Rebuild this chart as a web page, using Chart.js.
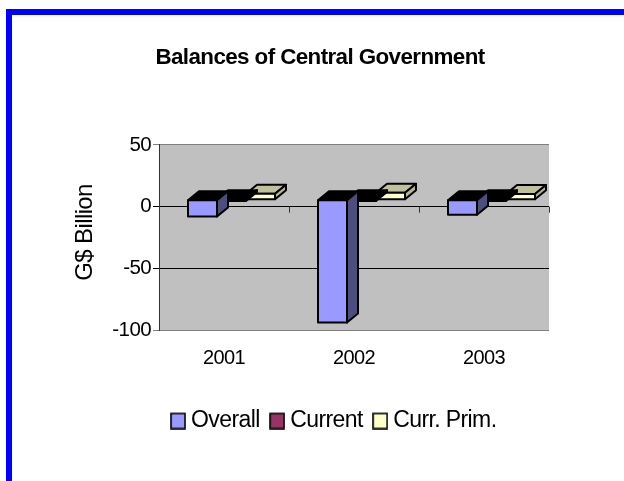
<!DOCTYPE html>
<html>
<head>
<meta charset="utf-8">
<title>Balances of Central Government</title>
<script src="https://cdn.jsdelivr.net/npm/chart.js@4"></script>
<style>
  html, body { margin: 0; padding: 0; background: #fff; overflow: hidden; }
  #frame {
    position: absolute; left: 6px; top: 9px; width: 618px; height: 472px;
    box-sizing: border-box; border-top: 6px solid #0000ff; border-left: 6px solid #0000ff;
  }
  canvas { position: absolute; left: 0; top: 0; }
</style>
</head>
<body>
<div id="frame"></div>
<canvas id="c" width="624" height="481"></canvas>
<script>
const years = ['2001', '2002', '2003'];
const overall = [-8, -94, -6.5];
const current = [4.6, 4.6, 4.6];
const currPrim = [10.5, 11.3, 10.3];
const yTicks = [50, 0, -50, -100];

const FONT = '"Liberation Sans", Arial, sans-serif';

/* ---- 3D look ------------------------------------------------ */
const DEPTH_X = 11, DEPTH_Y = 9;   // extrusion of the bars
const LIFT_X = 7.5, LIFT_Y = 7;    // front plane sits off the axis plane

function poly(ctx, pts, fill) {
  ctx.beginPath();
  pts.forEach((p, i) => i ? ctx.lineTo(p[0], p[1]) : ctx.moveTo(p[0], p[1]));
  ctx.closePath();
  ctx.fillStyle = fill;
  ctx.fill();
  ctx.stroke();
}

const bars3d = {
  id: 'bars3d',
  beforeDatasetDraw(chart, args) {
    const ds = chart.data.datasets[args.index];
    const ctx = chart.ctx;
    ctx.save();
    ctx.strokeStyle = '#000';
    ctx.lineWidth = 2;
    ctx.lineJoin = 'round';
    args.meta.data.forEach(el => {
      const l = el.x - el.width / 2 + LIFT_X, r = l + el.width;
      const zero = el.base - LIFT_Y;
      const t = Math.min(zero, el.y), b = Math.max(zero, el.y);
      poly(ctx, [[l, t], [r, t], [r + DEPTH_X, t - DEPTH_Y], [l + DEPTH_X, t - DEPTH_Y]], ds.topColor);
      poly(ctx, [[r, t], [r + DEPTH_X, t - DEPTH_Y], [r + DEPTH_X, b - DEPTH_Y], [r, b]], ds.sideColor);
      poly(ctx, [[l, t], [r, t], [r, b], [l, b]], ds.backgroundColor);
    });
    ctx.restore();
    return false;
  }
};

const plotBack = {
  id: 'plotBack',
  beforeLayout(chart) { chart.ctx.letterSpacing = '-0.6px'; },
  beforeDraw(chart) {
    chart.ctx.letterSpacing = '-0.6px';
    const a = chart.chartArea;
    chart.ctx.fillStyle = '#c0c0c0';
    chart.ctx.fillRect(a.left, a.top, a.right - a.left, a.bottom - a.top);
  },
  afterLayout(chart) {
    chart.legend.left += 54;
    chart.legend.right += 54;
    chart.titleBlock.left += 37.5;
    chart.titleBlock.right += 37.5;
    // axis title sits a little above the middle of the plot
    const y = chart.scales.y;
    if (!y.titleMoved) {
      const drawTitle = y.drawTitle;
      y.drawTitle = function () { this.bottom -= 10; drawTitle.call(this); this.bottom += 10; };
      y.titleMoved = true;
    }
  },
  beforeDatasetsDraw(chart) {
    // tick marks of the category axis, they hang on the zero line
    const ctx = chart.ctx, x = chart.scales.x, y0 = chart.scales.y.getPixelForValue(0);
    const step = x.getPixelForValue(1) - x.getPixelForValue(0);
    ctx.save();
    ctx.strokeStyle = '#333';
    ctx.lineWidth = 1;
    years.forEach((yr, i) => {
      const px = Math.round(x.getPixelForValue(i) + step / 2) + 0.5;
      ctx.beginPath();
      ctx.moveTo(px, y0);
      ctx.lineTo(px, y0 + 6);
      ctx.stroke();
    });
    ctx.restore();
  }
};

/* ---- LEGEND SWATCHES ---------------------------------------- */
function swatch(color) {
  const cv = document.createElement('canvas');
  cv.width = 16; cv.height = 18;
  const g = cv.getContext('2d');
  g.fillStyle = color;
  g.strokeStyle = '#000';
  g.lineWidth = 1.6;
  g.fillRect(1, 2, 14, 15);
  g.strokeRect(1, 2, 14, 15);
  return cv;
}

/* ---- CHART -------------------------------------------------- */
new Chart(document.getElementById('c'), {
  type: 'bar',
  data: {
    labels: years,
    datasets: [
      { label: 'Overall', data: overall, backgroundColor: '#9999ff', topColor: '#000', sideColor: '#4d4d80' },
      { label: 'Current', data: current, backgroundColor: '#993366', topColor: '#000', sideColor: '#000' },
      { label: 'Curr. Prim.', data: currPrim, backgroundColor: '#ffffcc', topColor: '#c0c09a', sideColor: '#b5b58f' }
    ]
  },
  plugins: [plotBack, bars3d],
  options: {
    responsive: false,
    animation: false,
    categoryPercentage: 87 / 130,
    barPercentage: 1,
    layout: { padding: { left: 16, right: 75, top: 0, bottom: 39 } },
    plugins: {
      title: {
        display: true,
        text: 'Balances of Central Government',
        color: '#000',
        font: { family: FONT, size: 22.4, weight: 'bold', lineHeight: 1.2 },
        padding: { top: 44.5, bottom: 73.6 }
      },
      legend: {
        position: 'bottom',
        labels: {
          color: '#000',
          font: { family: FONT, size: 23 },
          usePointStyle: true,
          pointStyleWidth: 3,
          padding: 16,
          generateLabels(chart) {
            return chart.data.datasets.map((ds, i) => ({
              text: ds.label,
              datasetIndex: i,
              fontColor: '#000',
              pointStyle: swatch(ds.backgroundColor)
            }));
          }
        }
      },
      tooltip: { enabled: false }
    },
    scales: {
      x: {
        afterFit(s) { s.height = 63; },
        grid: { display: false },
        border: { display: false },
        ticks: { color: '#000', font: { family: FONT, size: 20 }, padding: 8, maxRotation: 0 }
      },
      y: {
        min: -100,
        max: 50,
        afterFit(s) { s.width = 143; },
        afterBuildTicks(s) { s.ticks = yTicks.map(v => ({ value: v })); },
        title: {
          display: true,
          text: 'G$ Billion',
          color: '#000',
          font: { family: FONT, size: 24 },
          padding: { top: 54.6, bottom: 0 }
        },
        grid: {
          tickLength: 6,
          color: c => (c.tick.value === 50 || c.tick.value === -100) ? '#808080' : '#000',
          lineWidth: 1
        },
        border: { color: '#333', width: 1 },
        ticks: { color: '#000', font: { family: FONT, size: 20.5 }, padding: 2 }
      }
    }
  }
});
</script>
</body>
</html>
